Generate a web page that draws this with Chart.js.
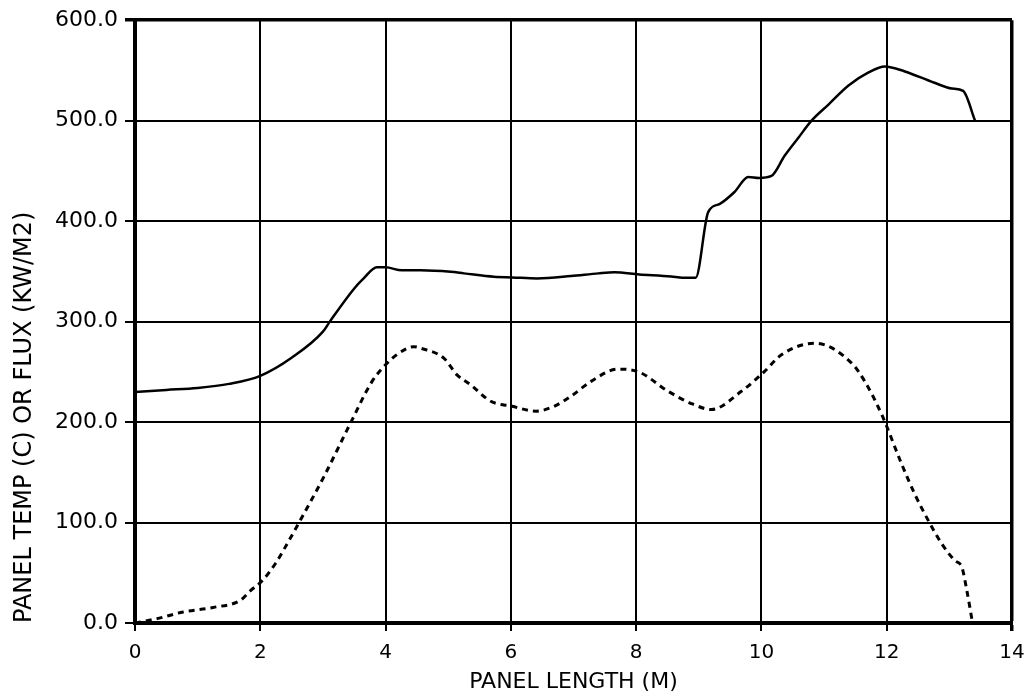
<!DOCTYPE html>
<html lang="en">
<head>
<meta charset="UTF-8">
<title>Panel temperature and flux</title>
<script src="https://cdn.jsdelivr.net/npm/chart.js"></script>
<style>
  body { margin: 0; background: #fff; }
</style>
</head>
<body>
<canvas id="panelChart" width="1024" height="698"></canvas>
<script>
  // values (x in m)
  const tempLength = [0, 0.5, 1.0, 1.5, 2.0, 2.5, 3.0, 3.11, 3.5, 3.65, 3.86, 4.0, 4.26, 4.56, 5.04, 5.25, 5.73, 6.02, 6.42, 6.96, 7.4, 7.65, 8.05, 8.56, 8.74, 8.95, 9.15, 9.33, 9.57, 9.79, 9.96, 10.16, 10.37, 10.59, 10.8, 11.07, 11.39, 11.71, 11.97, 12.29, 12.75, 13.04, 13.22, 13.41];
  const panelTemp = [230, 232, 234, 238, 246, 264, 290, 300, 333, 343, 354, 354, 351, 351, 349.5, 348, 344.6, 344, 343, 345.3, 348, 349, 347, 345, 343.6, 343.6, 409, 417, 429, 444, 443, 445, 465, 483, 500, 516, 535, 548, 554, 549, 538, 532, 529.6, 500];

  const fluxLength = [0, 0.37, 0.77, 1.25, 1.68, 1.84, 2.03, 2.24, 2.43, 2.61, 3.01, 3.44, 3.78, 4.0, 4.2, 4.45, 4.56, 4.93, 5.14, 5.36, 5.68, 6.02, 6.4, 6.69, 6.96, 7.28, 7.71, 8.05, 8.5, 8.9, 9.2, 9.68, 10.05, 10.32, 10.85, 11.44, 11.65, 11.92, 12.24, 12.45, 12.69, 12.88, 13.09, 13.2, 13.28, 13.37];
  const panelFlux = [0, 4.6, 11, 15.5, 22.5, 32, 42, 59, 79, 99, 145, 199, 240, 257, 268, 275, 273.5, 263.6, 247, 237, 220.7, 215.7, 210.8, 215.7, 225.7, 240.5, 252.7, 249.7, 231, 218, 212.5, 230.6, 250.4, 267, 278.5, 258.7, 240.5, 207.5, 158, 128, 99, 78.7, 62, 55.5, 32, 0];

  const xTicks = [0, 2, 4, 6, 8, 10, 12, 14];
  const yTicks = [0, 100, 200, 300, 400, 500, 600];

  const toPoints = (xs, ys) => xs.map((x, i) => ({ x: x, y: ys[i] }));
  const font = 'DejaVu Sans';

  const ctx = document.getElementById('panelChart').getContext('2d');
  const chart = new Chart(ctx, {
    type: 'line',
    data: {
      datasets: [{
        label: 'Panel temp',
        data: toPoints(tempLength, panelTemp),
        borderColor: '#000',
        borderWidth: 2.5,
        pointRadius: 0,
        cubicInterpolationMode: 'monotone'
      }, {
        label: 'Flux',
        data: toPoints(fluxLength, panelFlux),
        borderColor: '#000',
        borderWidth: 3,
        borderDash: [6, 5],
        pointRadius: 0,
        cubicInterpolationMode: 'monotone'
      }]
    },
    options: {
      responsive: false,
      animation: false,
      layout: { padding: { top: 17, right: 12, left: 0, bottom: 0 } },
      plugins: { legend: { display: false }, tooltip: { enabled: false } },
      scales: {
        x: {
          type: 'linear',
          min: 0,
          max: 14,
          afterBuildTicks: s => { s.ticks = xTicks.map(v => ({ value: v })); },
          afterFit: s => { s.height = 75; s.paddingLeft = 0; s.paddingRight = 0; },
          ticks: { color: '#000', padding: 10, font: { family: font, size: 20 } },
          grid: {
            color: '#000',
            lineWidth: c => (c.tick && c.tick.value === 14 ? 3.5 : 2),
            tickLength: 8
          },
          border: { color: '#000', width: 4 },
          title: {
            display: true,
            text: 'PANEL LENGTH (M)',
            color: '#000',
            font: { family: font, size: 22 },
            padding: { top: 0, bottom: 3 }
          }
        },
        y: {
          min: 0,
          max: 600,
          afterBuildTicks: s => { s.ticks = yTicks.map(v => ({ value: v })); },
          afterFit: s => { s.width = 135; },
          ticks: {
            color: '#000',
            padding: 7,
            font: { family: font, size: 22 },
            callback: v => v.toFixed(1)
          },
          grid: {
            color: '#000',
            lineWidth: c => (c.tick && c.tick.value === 600 ? 3.5 : 2),
            tickLength: 10
          },
          border: { color: '#000', width: 4 },
          title: {
            display: true,
            text: 'PANEL TEMP (C) OR FLUX (KW/M2)',
            align: 'start',
            color: '#000',
            font: { family: font, size: 24 },
            padding: { top: 10, bottom: 0 }
          }
        }
      }
    }
  });
</script>
</body>
</html>
